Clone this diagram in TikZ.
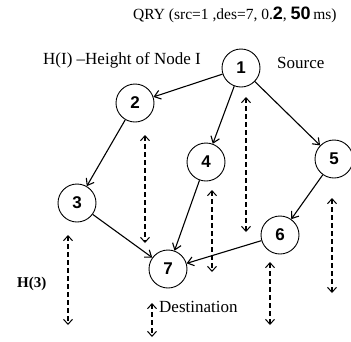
\documentclass[tikz,border=0pt]{standalone}
\usepackage{fontspec}
\setmainfont{Liberation Serif}
\newfontfamily\arialf{Liberation Sans}
\usetikzlibrary{arrows.meta}
\begin{document}
\begin{tikzpicture}[x=1pt,y=-1pt,
  nd/.style={circle,draw,line width=0.9pt,minimum size=38pt,inner sep=0pt,font=\arialf\bfseries\fontsize{17}{17}\selectfont},
  edge/.style={line width=1.1pt,-{Straight Barb[length=6pt,width=9pt,line width=1.1pt]}},
  hgt/.style={line width=1.3pt,dash pattern=on 5pt off 3pt,{Straight Barb[length=5pt,width=9pt,line width=1pt]}-{Straight Barb[length=5pt,width=9pt,line width=1pt]}},
  lbl/.style={font=\fontsize{17}{17}\selectfont,inner sep=0pt}]
\useasboundingbox (0,0) rectangle (351,341);
\node[nd] (n1) at (241,68) {1};
\node[nd] (n2) at (135,103) {2};
\node[nd] (n3) at (77,203) {3};
\node[nd] (n4) at (206,162) {4};
\node[nd] (n5) at (334,159) {5};
\node[nd] (n6) at (280,235) {6};
\node[nd] (n7) at (168,269) {7};
\draw[edge] (n1) -- (n2);
\draw[edge] (n1) -- (n4);
\draw[edge] (n1) -- (n5);
\draw[edge] (n2) -- (n3);
\draw[edge] (n3) -- (n7);
\draw[edge] (n4) -- (n7);
\draw[edge] (n5) -- (n6);
\draw[edge] (n6) -- (n7);
\coordinate (a1) at (246,97); \coordinate (a2) at (246,232);
\coordinate (b1) at (145,135); \coordinate (b2) at (145,243);
\coordinate (c1) at (212,190); \coordinate (c2) at (212,272);
\coordinate (d1) at (332,198); \coordinate (d2) at (332,293);
\coordinate (e1) at (68,235); \coordinate (e2) at (68,325);
\coordinate (f1) at (270,262); \coordinate (f2) at (270,325);
\coordinate (g1) at (152,303); \coordinate (g2) at (152,337);
\draw[hgt] (a1) -- (a2);
\draw[hgt] (b1) -- (b2);
\draw[hgt] (c1) -- (c2);
\draw[hgt] (d1) -- (d2);
\draw[hgt] (e1) -- (e2);
\draw[hgt] (f1) -- (f2);
\draw[hgt] (g1) -- (g2);
\node[lbl,anchor=west,font=\fontsize{15.5}{15.5}\selectfont] (q) at (133,15) {QRY (src=1 ,des=7, 0.{\arialf\bfseries\fontsize{18}{18}\selectfont 2}, {\arialf\bfseries\fontsize{18}{18}\selectfont 50}\,ms)};
\node[lbl,anchor=west] (h) at (43,60) {H(I) \textendash Height of Node I};
\node[lbl,anchor=west] (s) at (277,63) {Source};
\node[lbl,anchor=west,font=\bfseries\fontsize{15}{15}\selectfont] (h3) at (17,284) {H(3)};
\node[lbl,anchor=west] (d) at (159,307) {Destination};
\end{tikzpicture}
\end{document}
